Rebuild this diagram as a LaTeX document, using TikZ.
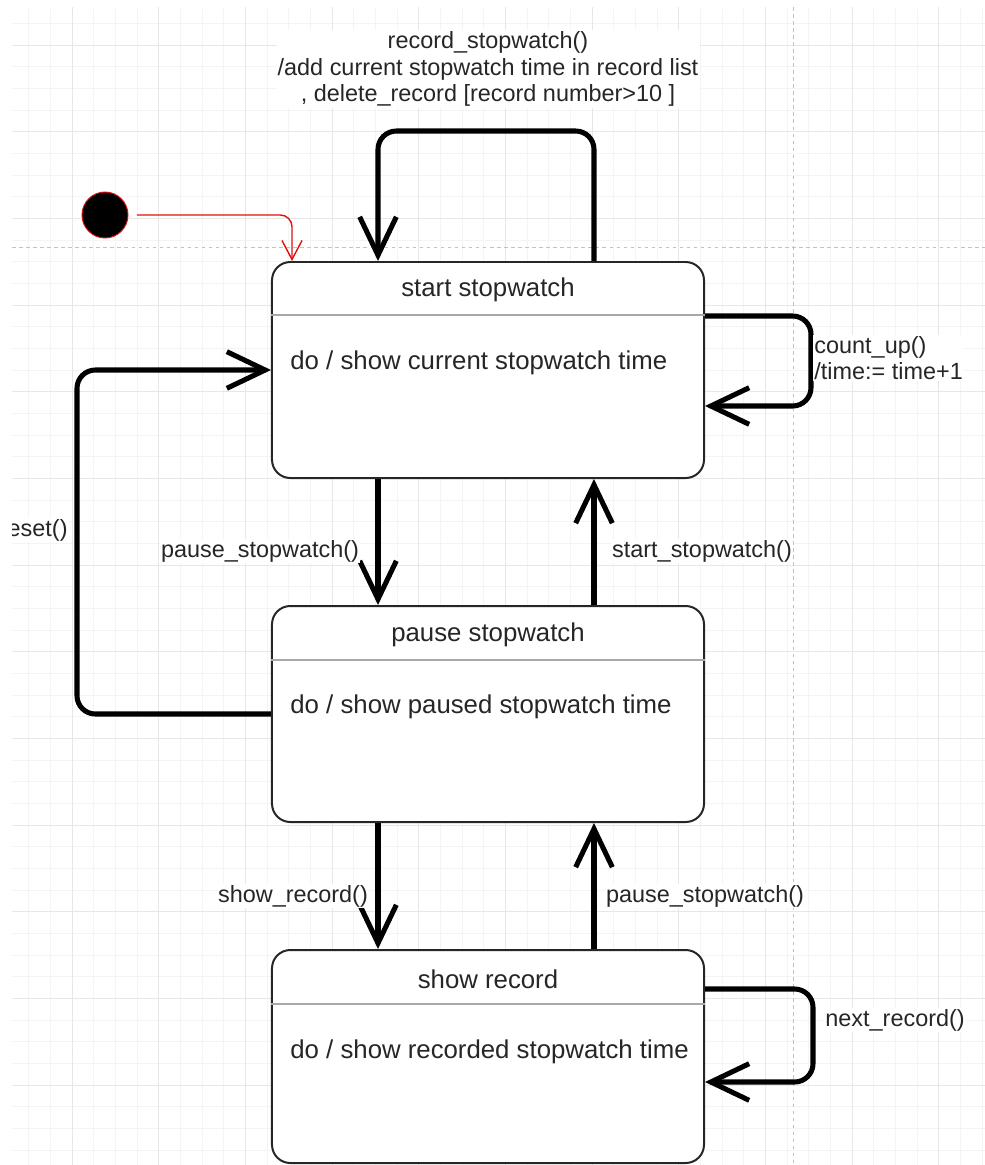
\documentclass[tikz,border=0pt]{standalone}
\usepackage{fontspec}
\setmainfont{Liberation Sans}
\usetikzlibrary{arrows.meta,calc}
\definecolor{gridminor}{HTML}{F4F4F4}
\definecolor{gridmajor}{HTML}{E7E7E7}
\definecolor{pagebreak}{HTML}{C2C2C2}
\definecolor{inktext}{HTML}{262626}
\definecolor{sepline}{HTML}{A8A8A8}
\definecolor{startred}{HTML}{E01010}

\begin{document}
\begin{tikzpicture}[
  x=0.03cm, y=-0.03cm,
  every node/.style={font=\fontsize{20}{22.6}\selectfont, text=inktext, inner sep=1pt},
  statebox/.style={
    draw=inktext,
    line width=1.7pt,
    rounded corners=0.55cm,
    fill=white,
    minimum width=12.96cm,
    minimum height=6.48cm
  },
  statetitle/.style={font=\fontsize{22}{26}\selectfont},
  activity/.style={font=\fontsize{22}{26}\selectfont, anchor=west},
  separator/.style={draw=sepline, line width=1.2pt},
  trans/.style={-{Straight Barb[length=1.15cm, width=1.1cm]}, draw=black, line width=4.3pt, rounded corners=0.55cm},
  tlabel/.style={fill=white, align=center},
  initdot/.style={circle, fill=black, draw=startred, line width=0.8pt, minimum size=1.38cm, inner sep=0pt},
  initarrow/.style={-{Straight Barb[length=0.57cm, width=0.6cm]}, draw=startred, line width=1.2pt, rounded corners=0.35cm, shorten <=0.25cm}
]
\useasboundingbox (0,0) rectangle (985,1165);
\begin{scope}
\clip (12,7) rectangle (985,1165);

% background grid and page breaks
\foreach \k in {-3,...,42}
  \draw[gridminor, line width=0.6pt] ({72+21.67*\k},7) -- ({72+21.67*\k},1165);
\foreach \k in {-2,...,52}
  \draw[gridminor, line width=0.6pt] (12,{45+21.67*\k}) -- (985,{45+21.67*\k});
\foreach \k in {-1,...,10}
  \draw[gridmajor, line width=0.7pt] ({72+86.67*\k},7) -- ({72+86.67*\k},1165);
\foreach \k in {0,...,13}
  \draw[gridmajor, line width=0.7pt] (12,{45+86.67*\k}) -- (985,{45+86.67*\k});
\draw[pagebreak, line width=0.8pt, dash pattern=on 3pt off 3pt] (12,247) -- (985,247);
\draw[pagebreak, line width=0.8pt, dash pattern=on 3pt off 3pt] (793,7) -- (793,1165);

% states
\node[statebox] (start) at (488,370) {};
\node[statebox] (pause) at (488,714) {};
\node[statebox, minimum height=6.39cm] (show) at (488,1056.5) {};

\node[statetitle] (startT) at ($(start.north)+(0,29)$) {start stopwatch};
\node[statetitle] (pauseT) at ($(pause.north)+(0,30)$) {pause stopwatch};
\node[statetitle] (showT) at ($(show.north)+(0,30)$) {show record};

\draw[separator] ($(start.north west)+(0,54)$) -- ($(start.north east)+(0,54)$);
\draw[separator] ($(pause.north west)+(0,55)$) -- ($(pause.north east)+(0,55)$);
\draw[separator] ($(show.north west)+(0,55)$) -- ($(show.north east)+(0,55)$);

\node[activity] (startA) at ($(start.north west)+(18,102)$) {do / show current stopwatch time};
\node[activity] (pauseA) at ($(pause.north west)+(18,102)$) {do / show paused stopwatch time};
\node[activity] (showA) at ($(show.north west)+(18,103)$) {do / show recorded stopwatch time};

% initial state
\node[initdot] (init) at (105,215) {};
\draw[initarrow] (init.east) -| ($(start.north west)+(21,0)$);

% transitions
\draw[trans] ($(start.north)+(106,0)$) -- ++(0,-130) -| ($(start.north)+(-110,0)$);
\draw[trans] ($(start.east)+(0,-54)$) -- ++(106,0) |- ($(start.east)+(0,36)$);
\draw[trans] ($(start.south)+(-110,0)$) -- ($(pause.north)+(-110,0)$);
\draw[trans] ($(pause.north)+(106,0)$) -- ($(start.south)+(106,0)$);
\draw[trans] (pause.west) -- ++(-194,0) |- (start.west);
\draw[trans] ($(pause.south)+(-110,0)$) -- ($(show.north)+(-110,0)$);
\draw[trans] ($(show.north)+(106,0)$) -- ($(pause.south)+(106,0)$);
\draw[trans] ($(show.north east)+(0,40)$) -- ++(108,0) |- ($(show.north east)+(0,133)$);

% transition labels
\node[tlabel] (recordL) at (488,69) {record\_stopwatch()\\/add current stopwatch time in record list\\, delete\_record [record number>10 ]};
\node[tlabel, anchor=west, align=left] (countL) at (813,358) {count\_up()\\/time:= time+1};
\node[tlabel] (pauseL) at (260,551) {pause\_stopwatch()};
\node[tlabel] (resumeL) at (702,551) {start\_stopwatch()};
\node[tlabel, anchor=east] (resetL) at (69,530) {reset()};
\node[tlabel] (showL) at (293,896) {show\_record()};
\node[tlabel] (backL) at (705,896) {pause\_stopwatch()};
\node[tlabel, anchor=west] (nextL) at (824,1020) {next\_record()};
\end{scope}
\end{tikzpicture}
\end{document}
